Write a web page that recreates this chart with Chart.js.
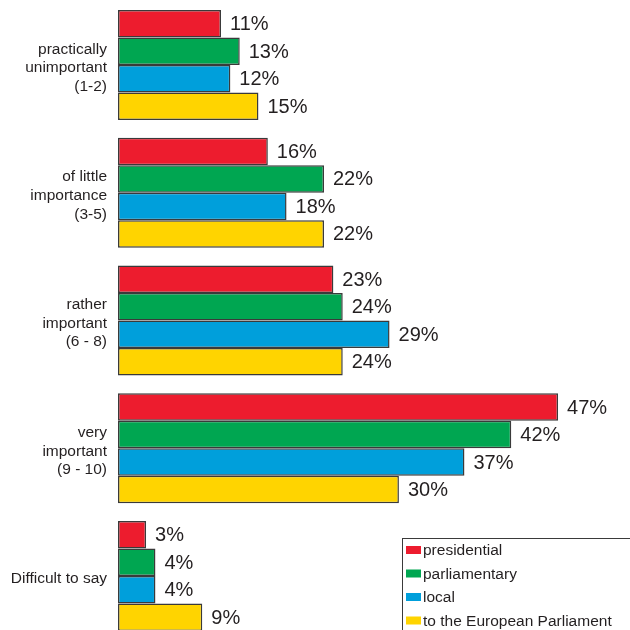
<!DOCTYPE html>
<html>
<head>
<meta charset="utf-8">
<script src="https://cdn.jsdelivr.net/npm/chart.js@4.4.1/dist/chart.umd.min.js"></script>
<style>
  html, body { margin: 0; padding: 0; background: #fff; overflow: hidden; }
  #wrap { position: relative; width: 633px; height: 640px; }
</style>
</head>
<body>
<div id="wrap"><canvas id="chart"></canvas></div>
<script>
  // answer groups (importance rating)
  const categories = [
    ['practically', 'unimportant', '(1-2)'],
    ['of little', 'importance', '(3-5)'],
    ['rather', 'important', '(6 - 8)'],
    ['very', 'important', '(9 - 10)'],
    'Difficult to say'
  ];

  // share of answers, % - one list per election type
  const presidential = [11, 16, 23, 47, 3];
  const parliamentary = [13, 22, 24, 42, 4];
  const local = [12, 18, 29, 37, 4];
  const europeanParliament = [15, 22, 24, 30, 9];

  const seriesNames = ['presidential', 'parliamentary', 'local', 'to the European Parliament'];
  const seriesColors = ['#ed1c2e', '#00a651', '#009fdb', '#ffd400'];

  const textColor = '#231f20';
  const fontFamily = '"Liberation Sans", Arial, sans-serif';

  // percentage printed right after each bar end
  const valueLabels = {
    id: 'valueLabels',
    afterDatasetsDraw(chart) {
      const ctx = chart.ctx;
      ctx.save();
      ctx.font = '20px ' + fontFamily;
      ctx.fillStyle = textColor;
      ctx.textAlign = 'left';
      ctx.textBaseline = 'middle';
      chart.data.datasets.forEach((ds, i) => {
        chart.getDatasetMeta(i).data.forEach((bar, j) => {
          ctx.fillText(ds.data[j] + '%', bar.x + 9, bar.y + 1);
        });
      });
      ctx.restore();
    }
  };

  // boxed legend in the lower right corner
  const boxLegend = {
    id: 'boxLegend',
    afterDraw(chart) {
      const ctx = chart.ctx;
      const left = 402, top = 538;
      ctx.save();
      ctx.fillStyle = '#fff';
      ctx.fillRect(left, top, 240, 110);
      ctx.strokeStyle = '#3a3a3a';
      ctx.lineWidth = 1;
      ctx.strokeRect(left + 0.5, top + 0.5, 240, 110);
      ctx.font = '15.5px ' + fontFamily;
      ctx.textBaseline = 'middle';
      chart.data.datasets.forEach((ds, i) => {
        const y = top + 12 + i * 23.5;
        ctx.fillStyle = ds.backgroundColor;
        ctx.fillRect(left + 4, y - 4, 15, 8);
        ctx.fillStyle = textColor;
        ctx.fillText(ds.label, left + 21, y + 1);
      });
      ctx.restore();
    }
  };

  const seriesData = [presidential, parliamentary, local, europeanParliament];

  new Chart(document.getElementById('chart'), {
    type: 'bar',
    data: {
      labels: categories,
      datasets: seriesData.map((values, i) => ({
        label: seriesNames[i],
        data: values,
        backgroundColor: seriesColors[i],
        borderColor: '#3a3a3a',
        borderWidth: 1.5,
        borderSkipped: false,
        barPercentage: 1,
        categoryPercentage: 0.861
      }))
    },
    options: {
      indexAxis: 'y',
      responsive: true,
      maintainAspectRatio: false,
      animation: false,
      layout: { padding: { top: 1, right: 0, bottom: 0, left: 0 } },
      scales: {
        x: {
          display: false,
          min: 0,
          max: 55
        },
        y: {
          grid: { display: false, drawTicks: false },
          border: { display: false },
          ticks: {
            padding: 11,
            labelOffset: 3,
            color: textColor,
            font: { family: fontFamily, size: 15.5, lineHeight: 1.2 }
          },
          afterFit(scale) {
            // fixed label column; tall multi-line labels must not shrink the plot
            scale.width = 118;
            scale.paddingTop = 0;
            scale.paddingBottom = 0;
          }
        }
      },
      plugins: {
        legend: { display: false },
        tooltip: { enabled: false }
      }
    },
    plugins: [valueLabels, boxLegend]
  });
</script>
</body>
</html>
